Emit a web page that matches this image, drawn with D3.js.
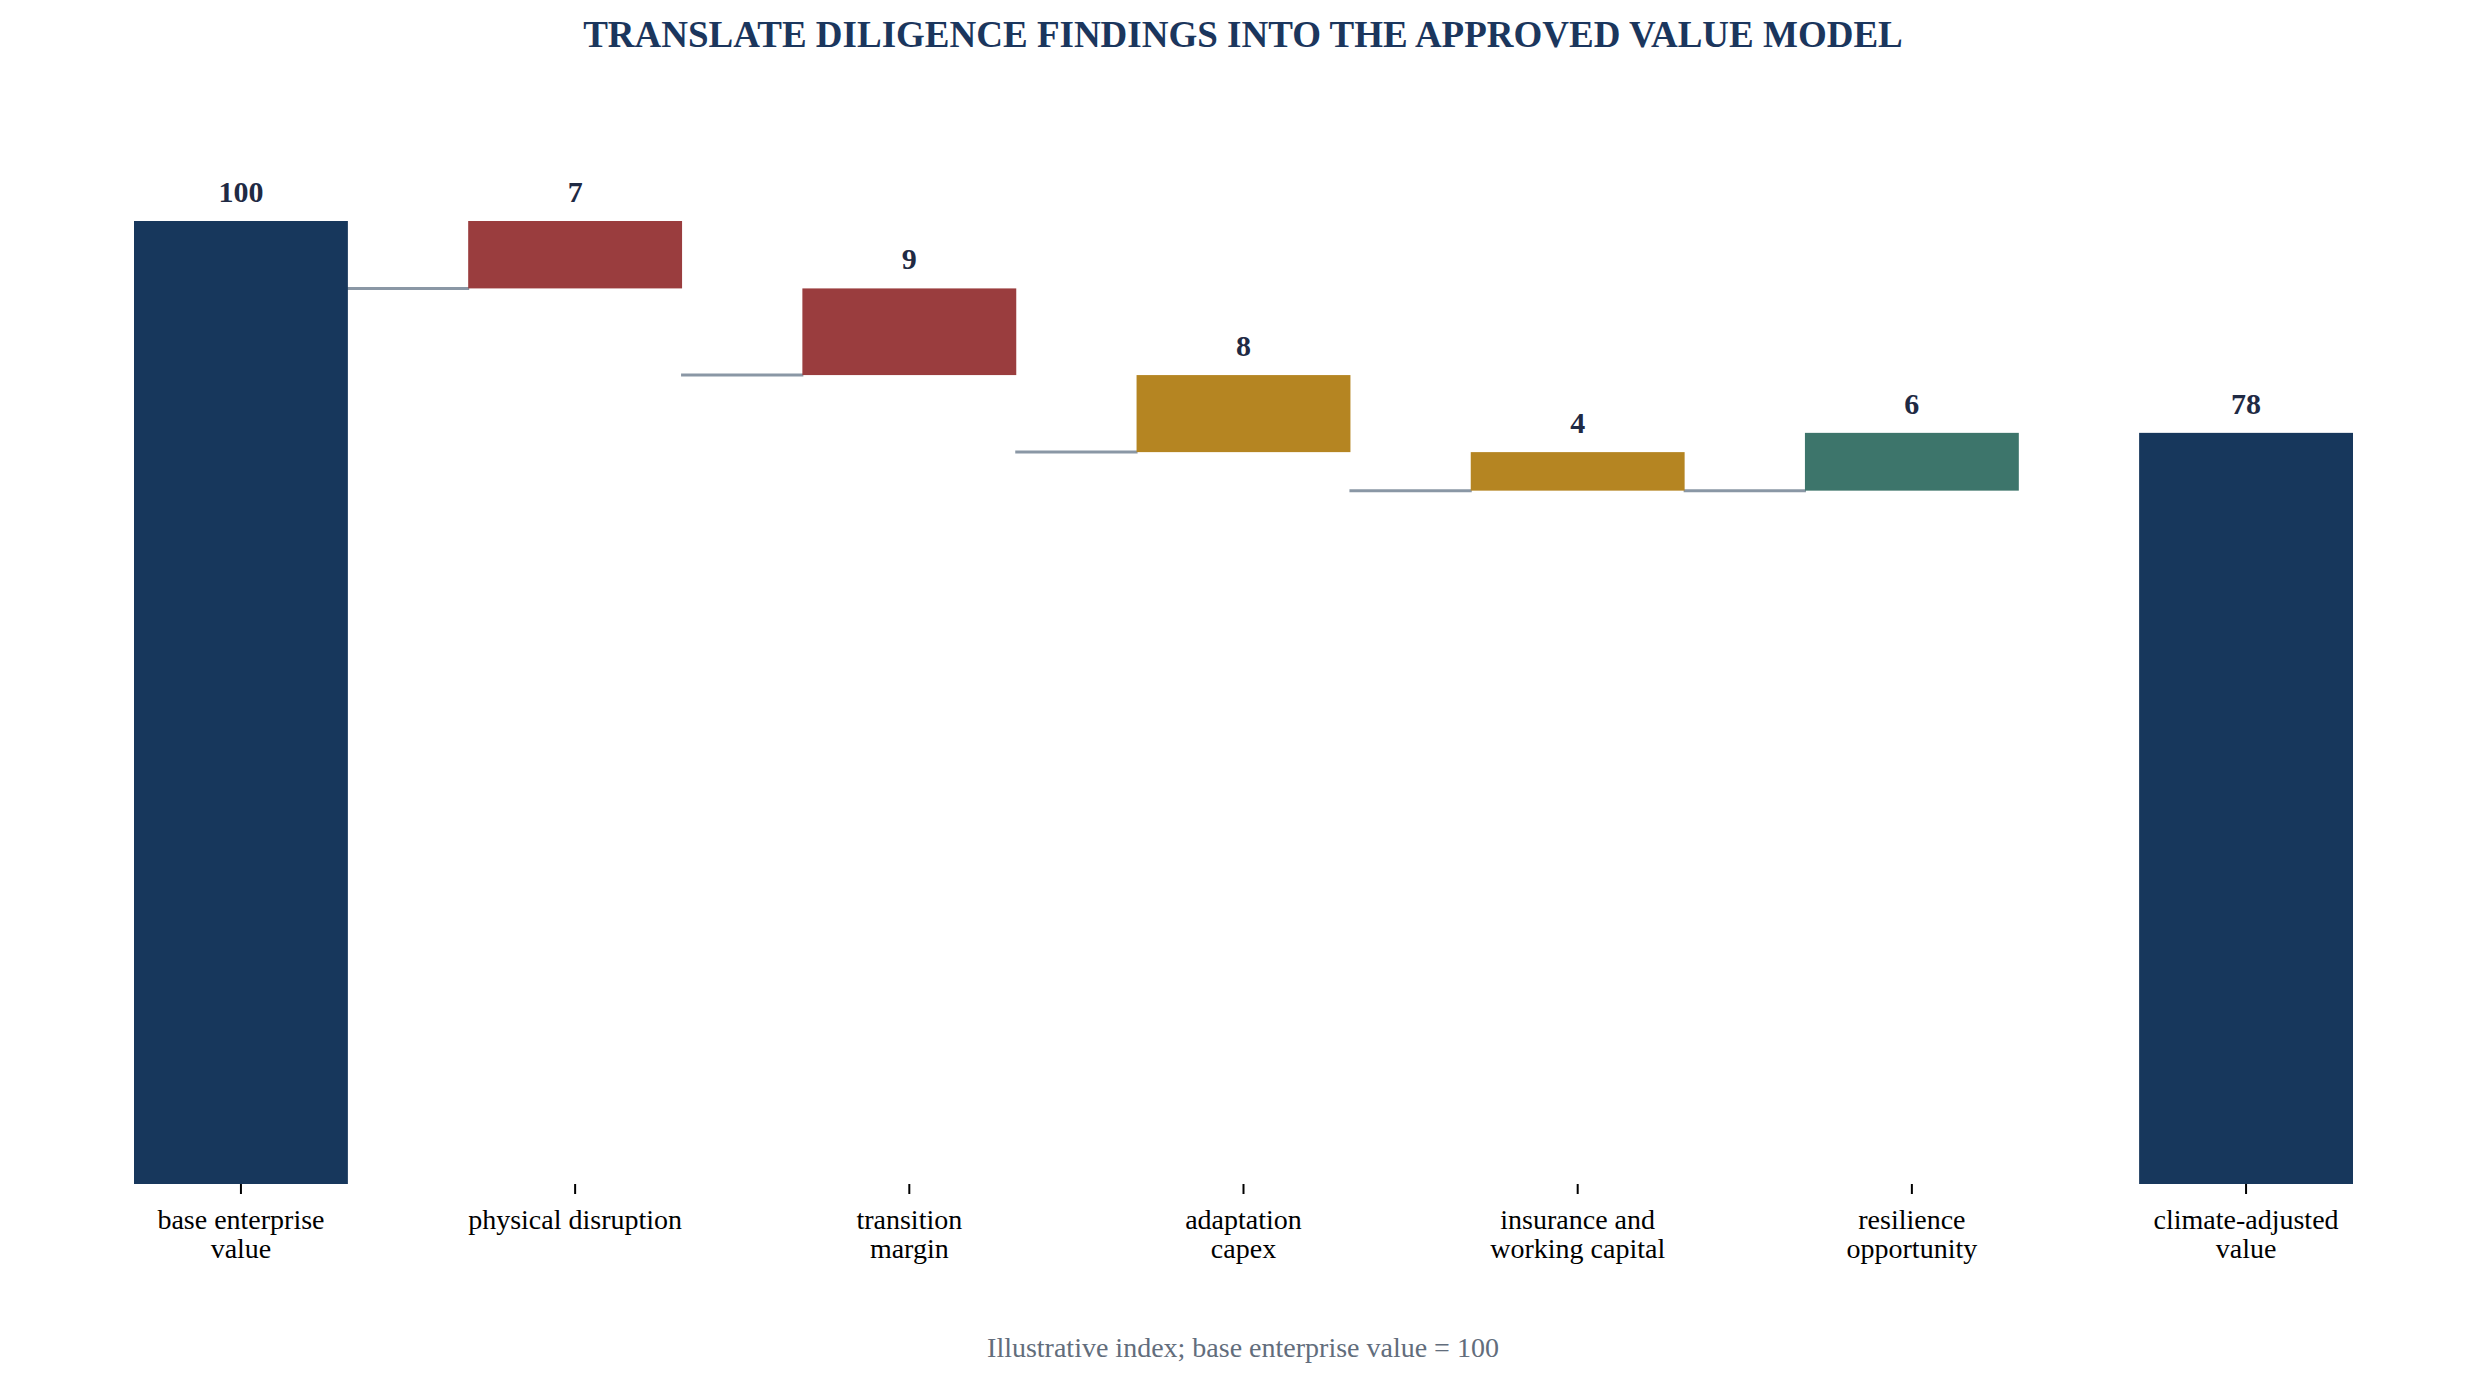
<!doctype html>
<html lang="en">
<head>
    <meta charset="UTF-8">
    <title>Climate value bridge</title>
    <style>
        body { margin: 0; background: #fff; }
        svg { display: block; }
    </style>
</head>
<body>
    <svg width="2486" height="1386"></svg>
    <script src="https://cdn.jsdelivr.net/npm/d3@7"></script>
    <script>
    // data
    var categories = ['base enterprise\nvalue', 'physical disruption', 'transition\nmargin', 'adaptation\ncapex',
        'insurance and\nworking capital', 'resilience\nopportunity', 'climate-adjusted\nvalue'];
    var values = [100, -7, -9, -8, -4, 6, 78];
    var kinds = ['total', 'physical', 'transition', 'adaptation', 'adaptation', 'opportunity', 'total'];
    var yDomain = [0, 100];

    var colors = {
        total: '#17375c',
        physical: '#9a3d3e',
        transition: '#9a3d3e',
        adaptation: '#b58522',
        opportunity: '#3d756b'
    };
    var serif = '"Liberation Serif", "Times New Roman", Times, serif';

    // running totals
    var steps = [];
    var running = 0;
    values.forEach(function(v, i) {
        var s, e;
        if (kinds[i] === 'total') {
            s = 0;
            e = v;
            running = v;
        } else {
            s = running;
            e = running + v;
            running = e;
        }
        steps.push({ cat: categories[i], value: v, kind: kinds[i], start: s, end: e });
    });

    var svg = d3.select('svg');
    var width = +svg.attr('width');

    var x = d3.scaleBand()
        .domain(categories)
        .range([134, 2353])
        .paddingInner(0.36)
        .paddingOuter(0);
    var y = d3.scaleLinear()
        .domain(yDomain)
        .range([1184, 221]);

    // title
    svg.append('text')
        .attr('x', width / 2)
        .attr('y', 47)
        .attr('text-anchor', 'middle')
        .style('font-family', serif)
        .style('font-weight', 'bold')
        .style('font-size', '37px')
        .style('fill', '#1b365d')
        .text('TRANSLATE DILIGENCE FINDINGS INTO THE APPROVED VALUE MODEL');

    // connectors: drawn in the gap before each step, at the foot of that step
    var links = steps.slice(1, steps.length - 1);
    svg.append('g')
        .selectAll('line')
        .data(links)
        .enter()
        .append('line')
        .attr('x1', function(d, i) { return x(categories[i]) + x.bandwidth() - 1; })
        .attr('x2', function(d) { return x(d.cat) + 1; })
        .attr('y1', function(d) { return y(Math.min(d.start, d.end)); })
        .attr('y2', function(d) { return y(Math.min(d.start, d.end)); })
        .attr('stroke', '#8a97a5')
        .attr('stroke-width', 3);

    // bars
    svg.append('g')
        .selectAll('rect')
        .data(steps)
        .enter()
        .append('rect')
        .attr('x', function(d) { return x(d.cat); })
        .attr('width', x.bandwidth())
        .attr('y', function(d) { return y(Math.max(d.start, d.end)); })
        .attr('height', function(d) { return Math.abs(y(d.start) - y(d.end)); })
        .attr('fill', function(d) { return colors[d.kind]; });

    // value labels
    svg.append('g')
        .selectAll('text')
        .data(steps)
        .enter()
        .append('text')
        .attr('x', function(d) { return x(d.cat) + x.bandwidth() / 2; })
        .attr('y', function(d) { return y(Math.max(d.start, d.end)) - 19; })
        .attr('text-anchor', 'middle')
        .style('font-family', serif)
        .style('font-weight', 'bold')
        .style('font-size', '30px')
        .style('fill', '#1f2a44')
        .text(function(d) { return Math.abs(d.value); });

    // x axis
    var xAxis = svg.append('g')
        .attr('transform', 'translate(0,' + y(0) + ')')
        .call(d3.axisBottom(x).tickSize(10).tickSizeOuter(0));
    xAxis.select('.domain').remove();
    xAxis.selectAll('.tick line')
        .attr('stroke', '#000')
        .attr('stroke-width', 2);
    xAxis.selectAll('.tick text')
        .attr('y', 45)
        .attr('dy', 0)
        .style('font-family', serif)
        .style('font-size', '28px')
        .style('fill', '#000')
        .each(function(d) {
            var t = d3.select(this);
            var lines = d.split('\n');
            t.text(null);
            lines.forEach(function(l, i) {
                t.append('tspan')
                    .attr('x', 0)
                    .attr('dy', i === 0 ? 0 : 29)
                    .text(l);
            });
        });

    // footnote
    svg.append('text')
        .attr('x', width / 2)
        .attr('y', 1357)
        .attr('text-anchor', 'middle')
        .style('font-family', serif)
        .style('font-size', '28px')
        .style('fill', '#626d7c')
        .text('Illustrative index; base enterprise value = 100');
    </script>
</body>
</html>
